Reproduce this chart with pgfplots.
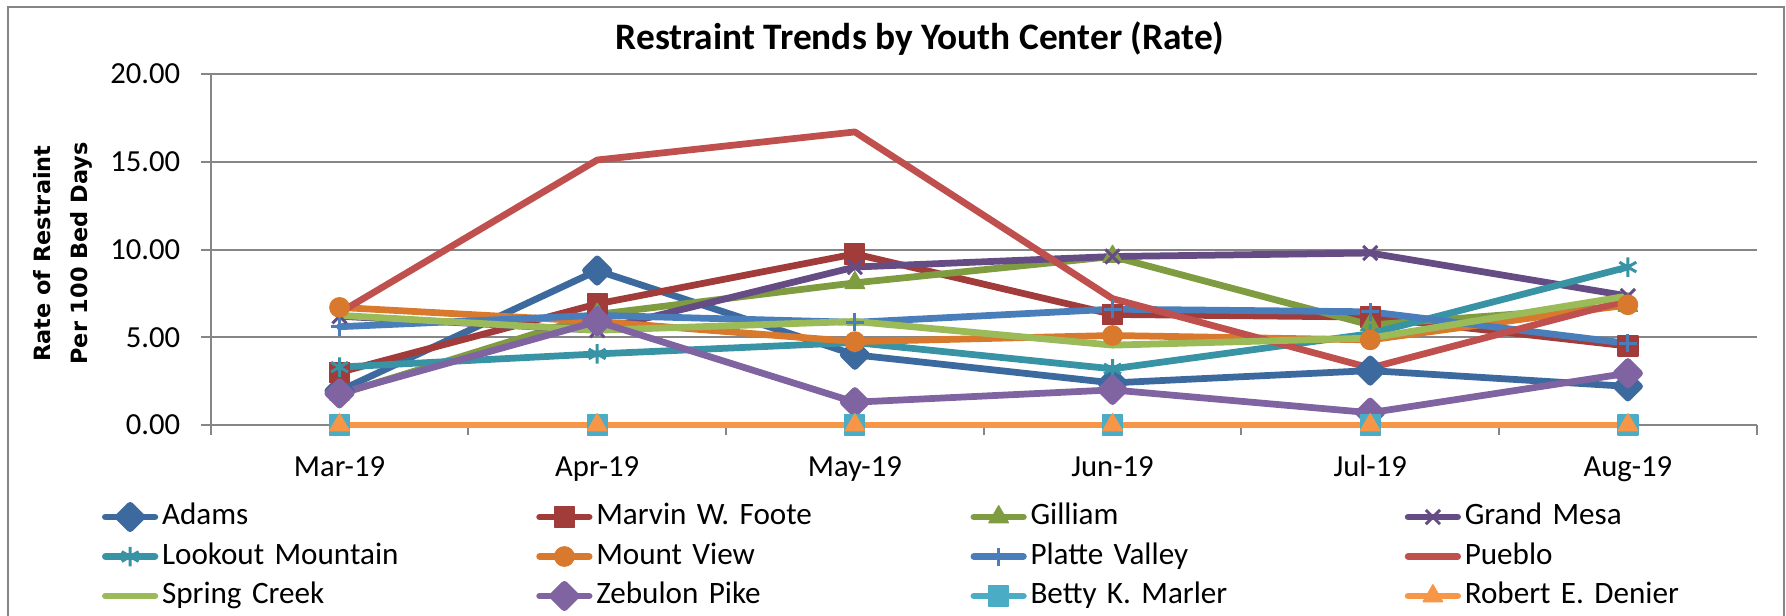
\documentclass[border=0pt]{standalone}
\usepackage{fontspec}
\setmainfont{Carlito}
\newfontfamily\verd{DejaVu Sans}
\usepackage{pgfplots}
\pgfplotsset{compat=1.18}

\definecolor{gridgray}{HTML}{868686}
\definecolor{cAdams}{HTML}{3C6A9F}
\definecolor{cFoote}{HTML}{A23C3A}
\definecolor{cGilliam}{HTML}{7F9C41}
\definecolor{cMesa}{HTML}{664C84}
\definecolor{cLookout}{HTML}{3893A5}
\definecolor{cMount}{HTML}{D8792E}
\definecolor{cPlatte}{HTML}{4A7EBB}
\definecolor{cPueblo}{HTML}{C0504D}
\definecolor{cSpring}{HTML}{9BBB59}
\definecolor{cZeb}{HTML}{8064A2}
\definecolor{cBetty}{HTML}{4BACC6}
\definecolor{cRobert}{HTML}{F79646}

\pgfplotsset{
  ser/.style={#1, line width=2.7bp, line join=round, line cap=round, mark options={solid, fill=#1, draw=#1, line width=0.5bp}},
  thinmark/.style={mark options={solid, draw=#1, line width=1.2bp, line cap=butt}},
}

\begin{document}
\begin{tikzpicture}
\begin{axis}[
  scale only axis, width=618.4bp, height=140.4bp,
  xmin=-0.5, xmax=5.5, ymin=0, ymax=20,
  clip=false,
  axis x line*=bottom, axis y line*=left,
  axis line style={draw=gridgray, line width=0.8bp, -},
  tick align=outside, tick pos=left,
  major tick length=4bp,
  every tick/.style={draw=gridgray, line width=0.8bp},
  xtick={-0.5,0.5,1.5,2.5,3.5,4.5,5.5}, xticklabels={},
  extra x ticks={0,1,2,3,4,5},
  extra x tick labels={Mar-19,Apr-19,May-19,Jun-19,Jul-19,Aug-19},
  extra x tick style={major tick length=0pt, xticklabel style={anchor=base, inner sep=0pt, yshift=-20.4bp}},
  ytick={0,5,10,15,20},
  yticklabel style={anchor=east, inner sep=0pt, xshift=-8bp, /pgf/number format/.cd, fixed, fixed zerofill, precision=2, assume math mode=true},
  tick label style={font=\fontsize{12.3}{14}\selectfont},
  ymajorgrids, major grid style={draw=gridgray, line width=0.8bp},
  title={Restraint Trends by Youth Center (Rate)},
  title style={font=\fontsize{15}{17}\selectfont\bfseries, at={(axis description cs:0.4588,1.0284)}, anchor=base, inner sep=0pt},
  ylabel={Rate of Restraint\\Per 100 Bed Days},
  ylabel style={font=\verd\bfseries\fontsize{9}{15}\selectfont, align=center, at={(axis description cs:-0.0955,0.4886)}, anchor=center, inner sep=0pt},
  legend columns=4,
  legend cell align=left,
  legend style={at={(axis description cs:-0.0703,-0.2194)}, anchor=north west, draw=none, fill=none,
    inner sep=0pt, outer sep=0pt, row sep=3.8bp, column sep=0pt,
    nodes={inner sep=0pt, anchor=west, text width=149.7bp, text height=9bp, text depth=3bp, font=\fontsize{12.5}{14}\selectfont}},
  legend image code/.code={\draw[mark repeat=2, mark phase=2, #1] plot coordinates {(0bp,0bp) (9.9bp,0bp) (19.8bp,0bp)}; \path (21.3bp,0bp);},
]
\addplot[ser=cAdams, mark=square*, mark size=3.3bp, mark options={rotate=45}] coordinates {(0,1.95) (1,8.8) (2,4.0) (3,2.4) (4,3.1) (5,2.2)};
\addlegendentry{Adams}
\addplot[ser=cFoote, mark=square*, mark size=4bp] coordinates {(0,3.0) (1,6.9) (2,9.75) (3,6.3) (4,6.15) (5,4.5)};
\addlegendentry{Marvin W. Foote}
\addplot[ser=cGilliam, mark=triangle*, mark size=4.5bp] coordinates {(0,1.75) (1,6.3) (2,8.1) (3,9.6) (4,5.7) (5,6.8)};
\addlegendentry{Gilliam}
\addplot[ser=cMesa, thinmark=cMesa, mark=x, mark size=4bp] coordinates {(0,6.2) (1,5.4) (2,9.0) (3,9.6) (4,9.8) (5,7.35)};
\addlegendentry{Grand Mesa}
\addplot[ser=cLookout, thinmark=cLookout, mark=asterisk, mark size=3.9bp] coordinates {(0,3.3) (1,4.05) (2,4.7) (3,3.2) (4,5.2) (5,9.0)};
\addlegendentry{Lookout Mountain}
\addplot[ser=cMount, mark=*, mark size=3.9bp] coordinates {(0,6.7) (1,5.9) (2,4.75) (3,5.1) (4,4.85) (5,6.85)};
\addlegendentry{Mount View}
\addplot[ser=cPlatte, thinmark=cPlatte, mark=+, mark size=3.6bp] coordinates {(0,5.6) (1,6.25) (2,5.85) (3,6.6) (4,6.45) (5,4.65)};
\addlegendentry{Platte Valley}
\addplot[ser=cPueblo, mark=none] coordinates {(0,6.4) (1,15.1) (2,16.7) (3,7.2) (4,3.25) (5,7.1)};
\addlegendentry{Pueblo}
\addplot[ser=cSpring, mark=none] coordinates {(0,6.25) (1,5.4) (2,5.9) (3,4.55) (4,4.95) (5,7.35)};
\addlegendentry{Spring Creek}
\addplot[ser=cZeb, mark=square*, mark size=3.3bp, mark options={rotate=45}] coordinates {(0,1.8) (1,5.9) (2,1.3) (3,2.0) (4,0.7) (5,2.95)};
\addlegendentry{Zebulon Pike}
\addplot[ser=cBetty, mark=square*, mark size=4bp] coordinates {(0,0) (1,0) (2,0) (3,0) (4,0) (5,0)};
\addlegendentry{Betty K. Marler}
\addplot[ser=cRobert, mark=triangle*, mark size=4.5bp] coordinates {(0,0) (1,0) (2,0) (3,0) (4,0) (5,0)};
\addlegendentry{Robert E. Denier}
\end{axis}
\draw[gridgray, line width=0.8bp] (-81.08bp,-90bp) -- (-81.08bp,167.2bp) -- (629.32bp,167.2bp) -- (629.32bp,-90bp);
\pgfresetboundingbox
\useasboundingbox (-84.28bp,-76.4bp) rectangle (630.12bp,170bp);
\end{tikzpicture}
\end{document}
